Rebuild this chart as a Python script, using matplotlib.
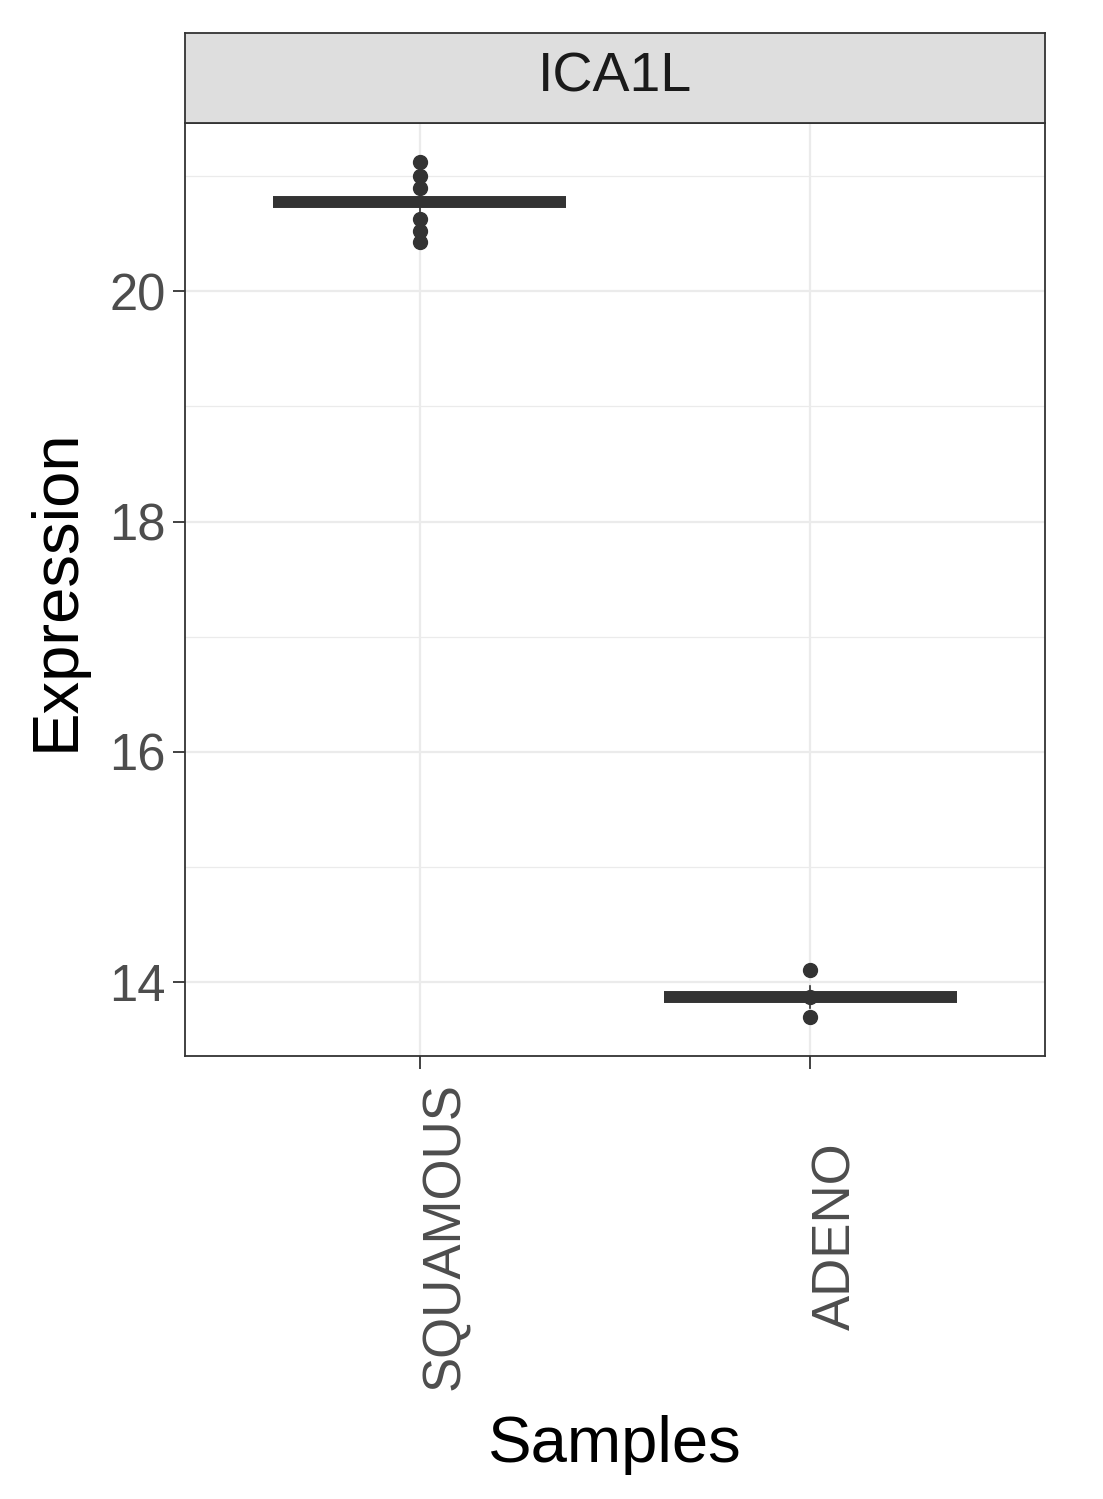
import matplotlib
matplotlib.use("Agg")
import matplotlib.pyplot as plt
import matplotlib.transforms as mtrans
import numpy as np

plt.rcParams['font.family'] = ['Liberation Sans', 'DejaVu Sans']

### DATOS
gene = "ICA1L"
groups = ["SQUAMOUS", "ADENO"]
squamous_vals = [21.12, 21.00, 20.90, 20.63, 20.52, 20.43]
adeno_vals = [14.11, 13.87, 13.70]
centre_vals = [20.77, 13.87]
range_lo = [20.64, 13.78]
range_hi = [20.90, 13.97]
yticks = [14, 16, 18, 20]
yminor = [15, 17, 19, 21]

DARK = "#333333"
W, H = 1103, 1499

fig = plt.figure(figsize=(W / 100, H / 100), dpi=100)

# panel
left, right = 185 / W, 1045 / W
bottom, top = 1 - 1056 / H, 1 - 123 / H
ax = fig.add_axes([left, bottom, right - left, top - bottom])
# strip
sax = fig.add_axes([left, top, right - left, (123 - 33) / H])

xpos = np.arange(1, len(groups) + 1)
ax.set_xlim(0.4, 2.6)
ax.set_ylim(13.36, 21.46)

# grid como theme_bw
for v in yminor:
    ax.axhline(v, color="#EBEBEB", lw=0.9, zorder=0)
for v in yticks:
    ax.axhline(v, color="#EBEBEB", lw=1.6, zorder=0)
for x in xpos:
    ax.axvline(x, color="#EBEBEB", lw=1.6, zorder=0)

all_vals = [squamous_vals, adeno_vals]
for i, vals in enumerate(all_vals):
    x = xpos[i]
    ax.plot([x, x], [range_lo[i], range_hi[i]], color=DARK, lw=1.2, zorder=2)
    ax.hlines(centre_vals[i], x - 0.375, x + 0.375, color=DARK, lw=8.6, zorder=3)
    ax.plot([x] * len(vals), vals, "o", color=DARK, ms=10, mec=DARK, zorder=4)

ax.set_yticks(yticks)
ax.set_yticklabels([str(t) for t in yticks])
ax.set_xticks(xpos)
ax.set_xticklabels(groups, rotation=90, ha="center", va="center")
ax.tick_params(axis="y", length=9, width=1.3, color=DARK, labelsize=36.5,
               labelcolor="#4D4D4D", pad=5)
ax.tick_params(axis="x", length=9, width=1.3, color=DARK, labelsize=38,
               labelcolor="#4D4D4D", pad=121)
# etiquetas del eje x un poco a la derecha, como en ggplot
shift = mtrans.ScaledTranslation(26 / 100, 0, fig.dpi_scale_trans)
for lab in ax.get_xticklabels():
    lab.set_transform(lab.get_transform() + shift)
for sp in ax.spines.values():
    sp.set_color(DARK)
    sp.set_linewidth(1.3)

# strip
sax.set_facecolor("#DEDEDE")
sax.set_xticks([])
sax.set_yticks([])
for sp in sax.spines.values():
    sp.set_color(DARK)
    sp.set_linewidth(1.3)
sax.text(0.5, 0.5, gene, ha="center", va="center", fontsize=40, color="#1A1A1A",
         transform=sax.transAxes)

# titulos
fig.text(57 / W, 1 - 590 / H, "Expression", rotation=90, ha="center", va="center",
         fontsize=47, color="black")
fig.text(615 / W, 1 - 1462 / H, "Samples", ha="center", va="baseline",
         fontsize=47, color="black")

fig.savefig("out.png", dpi=100)
